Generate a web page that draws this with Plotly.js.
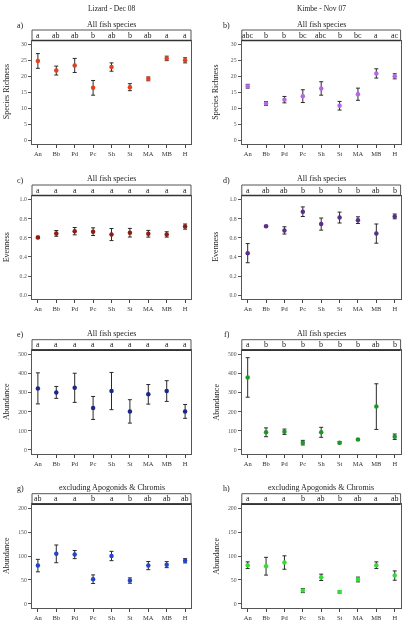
<!DOCTYPE html>
<html>
<head>
<meta charset="utf-8">
<script src="https://cdn.plot.ly/plotly-3.0.1.min.js"></script>
<style>
  html, body { margin: 0; padding: 0; background: #fff; }
  #chart { width: 403px; height: 637px; }
  /* grayscale antialiasing for the small labels */
  #chart svg text { filter: grayscale(1); }
</style>
</head>
<body>
<div id="chart"></div>
<script>
// Reef fish community metrics per habitat, two locations
const sites = ['An', 'Bb', 'Pd', 'Pc', 'Sh', 'St', 'MA', 'MB', 'H'];

// Species richness
const lizardRichMean = [24.8, 21.8, 23.4, 16.4, 22.9, 16.6, 19.2, 25.6, 25.0];
const lizardRichSE   = [2.3, 1.4, 2.2, 2.3, 1.3, 1.1, 0.6, 0.7, 0.8];
const lizardRichSig  = ['a', 'ab', 'ab', 'b', 'ab', 'b', 'ab', 'a', 'a'];
const kimbeRichMean  = [16.9, 11.5, 12.7, 13.8, 16.2, 10.8, 14.4, 20.9, 20.0];
const kimbeRichSE    = [0.6, 0.6, 1.0, 2.0, 2.1, 1.35, 1.9, 1.45, 0.8];
const kimbeRichSig   = ['abc', 'b', 'b', 'bc', 'abc', 'b', 'bc', 'a', 'ac'];

// Evenness
const lizardEvenMean = [0.603, 0.645, 0.668, 0.663, 0.633, 0.652, 0.641, 0.634, 0.716];
const lizardEvenSE   = [0.012, 0.030, 0.038, 0.040, 0.063, 0.045, 0.035, 0.028, 0.027];
const lizardEvenSig  = ['a', 'a', 'a', 'a', 'a', 'a', 'a', 'a', 'a'];
const kimbeEvenMean  = [0.439, 0.720, 0.676, 0.871, 0.742, 0.810, 0.783, 0.643, 0.822];
const kimbeEvenSE    = [0.100, 0.008, 0.038, 0.050, 0.063, 0.057, 0.035, 0.100, 0.025];
const kimbeEvenSig   = ['a', 'ab', 'ab', 'b', 'b', 'b', 'b', 'ab', 'b'];

// Abundance, all species
const lizardAbunMean = [321, 300, 324, 219, 307, 201, 290, 307, 201];
const lizardAbunSE   = [81, 31, 76, 60, 97, 61, 51, 54, 36];
const lizardAbunSig  = ['a', 'a', 'a', 'a', 'a', 'a', 'a', 'a', 'a'];
const kimbeAbunMean  = [378, 92, 95, 38, 92, 38, 54, 226, 69];
const kimbeAbunSE    = [103, 23, 14, 12, 26, 6, 4, 119, 14];
const kimbeAbunSig   = ['a', 'b', 'b', 'b', 'b', 'b', 'b', 'ab', 'b'];

// Abundance excluding apogonids and chromis
const lizardExclMean = [80, 104.5, 103, 51.6, 100, 48.8, 80, 82, 90];
const lizardExclSE   = [13, 18.5, 8.5, 9, 9.7, 5.6, 8.5, 6.3, 4.5];
const lizardExclSig  = ['ab', 'a', 'a', 'b', 'a', 'b', 'ab', 'ab', 'ab'];
const kimbeExclMean  = [80.8, 78.7, 86.4, 27.9, 55.5, 25, 51, 80.8, 59.2];
const kimbeExclSE    = [7, 18.5, 14, 4.2, 6.6, 2.5, 5, 7, 9.7];
const kimbeExclSig   = ['a', 'a', 'a', 'b', 'ab', 'b', 'ab', 'a', 'ab'];

const columnTitles = ['Lizard - Dec 08', 'Kimbe - Nov 07'];

const W = 403, H = 637;
const FONT = 'Liberation Serif, Times New Roman, serif';
const cols = [[32, 191], [241.8, 400.6]];
const rowTops = [40.5, 195.5, 350.2, 504.2];
const boxH = 103.6;
const stripH = 10.5;

const panels = [
  { tag: 'a)', sub: 'All fish species', yl: 'Species Richness', mean: lizardRichMean, se: lizardRichSE, sig: lizardRichSig, color: '#e2401e', yr: [0, 30], dt: 5, fmt: 'd' },
  { tag: 'b)', sub: 'All fish species', yl: 'Species Richness', mean: kimbeRichMean, se: kimbeRichSE, sig: kimbeRichSig, color: '#b467e4', yr: [0, 30], dt: 5, fmt: 'd' },
  { tag: 'c)', sub: 'All fish species', yl: 'Evenness', mean: lizardEvenMean, se: lizardEvenSE, sig: lizardEvenSig, color: '#8e1c12', yr: [0, 1], dt: 0.2, fmt: '.1f' },
  { tag: 'd)', sub: 'All fish species', yl: 'Evenness', mean: kimbeEvenMean, se: kimbeEvenSE, sig: kimbeEvenSig, color: '#5a2e8c', yr: [0, 1], dt: 0.2, fmt: '.1f' },
  { tag: 'e)', sub: 'All fish species', yl: 'Abundance', mean: lizardAbunMean, se: lizardAbunSE, sig: lizardAbunSig, color: '#1b2886', yr: [0, 500], dt: 100, fmt: 'd' },
  { tag: 'f)', sub: 'All fish species', yl: 'Abundance', mean: kimbeAbunMean, se: kimbeAbunSE, sig: kimbeAbunSig, color: '#20962a', yr: [0, 500], dt: 100, fmt: 'd' },
  { tag: 'g)', sub: 'excluding Apogonids & Chromis', yl: 'Abundance', mean: lizardExclMean, se: lizardExclSE, sig: lizardExclSig, color: '#2444cf', yr: [0, 200], dt: 50, fmt: 'd' },
  { tag: 'h)', sub: 'excluding Apogonids & Chromis', yl: 'Abundance', mean: kimbeExclMean, se: kimbeExclSE, sig: kimbeExclSig, color: '#35dc35', yr: [0, 200], dt: 50, fmt: 'd' }
];

const px = v => v / W;
const py = v => 1 - v / H;

const traces = [];
const layout = {
  width: W, height: H,
  margin: { l: 0, r: 0, t: 0, b: 0 },
  paper_bgcolor: '#fff', plot_bgcolor: '#fff',
  showlegend: false,
  font: { family: FONT, color: '#222' },
  annotations: [],
  shapes: []
};

panels.forEach((p, i) => {
  const n = i + 1;
  const row = Math.floor(i / 2), col = i % 2;
  const [x0, x1] = cols[col];
  const top = rowTops[row], bottom = top + boxH;
  const xa = 'xaxis' + n, ya = 'yaxis' + n;
  const xr = 'x' + n, yr = 'y' + n;
  const span = p.yr[1] - p.yr[0];
  const ticks = [];
  for (let v = p.yr[0]; v <= p.yr[1] + 1e-9; v += p.dt) ticks.push(+v.toFixed(6));

  traces.push({
    type: 'scatter', mode: 'markers',
    x: sites, y: p.mean,
    xaxis: xr, yaxis: yr,
    marker: { color: p.color, size: 4.5, symbol: 'circle' },
    error_y: { type: 'data', array: p.se, visible: true, color: '#2a2a2a', thickness: 1, width: 2 },
    hoverinfo: 'skip'
  });

  layout[xa] = {
    domain: [px(x0), px(x1)], anchor: yr,
    type: 'category', range: [-0.32, sites.length - 1 + 0.32],
    showline: true, mirror: true, linecolor: '#555', linewidth: 1,
    ticks: 'outside', ticklen: 3, tickcolor: '#444', tickwidth: 1,
    tickfont: { family: FONT, size: 6.5, color: '#333' },
    showgrid: false, zeroline: false, fixedrange: true
  };
  layout[ya] = {
    domain: [py(bottom), py(top)], anchor: xr,
    range: [p.yr[0] - 0.04 * span, p.yr[1] + 0.04 * span],
    tickvals: ticks, tickformat: p.fmt,
    showline: true, mirror: true, linecolor: '#555', linewidth: 1,
    ticks: 'outside', ticklen: 3, tickcolor: '#555', tickwidth: 1,
    tickfont: { family: FONT, size: 5.8, color: '#555' },
    showgrid: false, zeroline: false, fixedrange: true
  };

  // letter strip above the panel
  layout.shapes.push({
    type: 'rect', xref: 'paper', yref: 'paper',
    x0: px(x0), x1: px(x1), y0: py(top), y1: py(top - stripH),
    line: { color: '#555', width: 1 }, fillcolor: 'rgba(0,0,0,0)'
  });
  layout.shapes.push({
    type: 'line', xref: 'paper', yref: 'paper',
    x0: px(x0), x1: px(x1), y0: py(top), y1: py(top),
    line: { color: '#333', width: 1.6 }
  });
  p.sig.forEach((s, k) => {
    layout.annotations.push({
      xref: xr, yref: 'paper', x: sites[k], y: py(top - stripH / 2),
      text: s, showarrow: false, xanchor: 'center', yanchor: 'middle',
      font: { family: FONT, size: 8, color: '#222' }
    });
  });

  // panel subtitle, tag and y label
  layout.annotations.push({
    xref: 'paper', yref: 'paper', x: px((x0 + x1) / 2), y: py(top - stripH - 6),
    text: p.sub, showarrow: false, xanchor: 'center', yanchor: 'middle',
    font: { family: FONT, size: 8, color: '#222' }
  });
  layout.annotations.push({
    xref: 'paper', yref: 'paper', x: px(col === 0 ? 20 : 226.7), y: py(top - stripH - 5),
    text: p.tag, showarrow: false, xanchor: 'center', yanchor: 'middle',
    font: { family: FONT, size: 8, color: '#222' }
  });
  layout.annotations.push({
    xref: 'paper', yref: 'paper', x: px(col === 0 ? 6 : 215.5), y: py(top + boxH / 2),
    text: p.yl, showarrow: false, textangle: -90, xanchor: 'center', yanchor: 'middle',
    font: { family: FONT, size: 8, color: '#222' }
  });
});

columnTitles.forEach((t, c) => {
  layout.annotations.push({
    xref: 'paper', yref: 'paper', x: px(c === 0 ? 111.7 : 321), y: py(9),
    text: t, showarrow: false, xanchor: 'center', yanchor: 'middle',
    font: { family: FONT, size: 7.5, color: '#222' }
  });
});

Plotly.newPlot('chart', traces, layout, { staticPlot: true, displayModeBar: false });
</script>
</body>
</html>
